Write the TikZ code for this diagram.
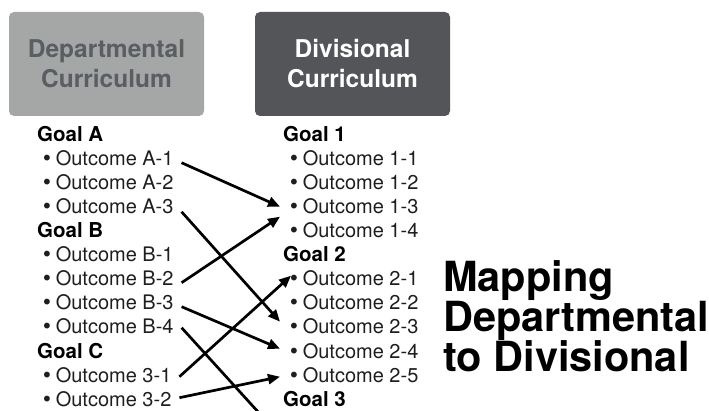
\documentclass[tikz,border=0pt]{standalone}
\usepackage{fontspec}
\setmainfont{TeX Gyre Heros}
\newfontfamily\bulletfont{DejaVu Sans}
\usetikzlibrary{arrows.meta}
\definecolor{deptgray}{HTML}{A4A7A6}
\definecolor{depttext}{HTML}{5A5D62}
\definecolor{divgray}{HTML}{535558}
\definecolor{itemtext}{HTML}{1E1E1E}
\newcommand{\itembullet}{{\bulletfont •}\hspace{3pt}}
\tikzset{
  currbox/.style={rounded corners=5pt, minimum width=195pt, minimum height=104pt,
    align=center, inner sep=0pt, font=\bfseries\fontsize{24.5}{30}\selectfont},
  goal/.style={anchor=base west, inner sep=0pt, font=\bfseries\fontsize{20.5}{24}\selectfont},
  outcome/.style={anchor=base west, inner xsep=5pt, outer xsep=3pt, inner ysep=1pt,
    text=itemtext, font=\fontsize{20}{24}\selectfont},
  maparrow/.style={-{Triangle[length=12pt,width=10pt]}, line width=2.7pt}
}

\begin{document}
\begin{tikzpicture}[x=1pt, y=-1pt]
  \useasboundingbox (0,0) rectangle (709,411);
  \clip (0,0) rectangle (709,411);
  % header boxes
  \node[currbox, fill=deptgray, text=depttext] (dept) at (106.5,64) {Departmental\\Curriculum};
  \node[currbox, fill=divgray, text=white] (div) at (352.5,64) {Divisional\\Curriculum};
  % departmental side
  \node[goal] (goalA) at (37,142) {Goal A};
  \node[goal] (goalB) at (37,238) {Goal B};
  \node[goal] (goalC) at (37,358) {Goal C};
  \foreach \n/\t/\r in {a1/A-1/1, a2/A-2/2, a3/A-3/3, b1/B-1/5, b2/B-2/6,
                        b3/B-3/7, b4/B-4/8, c1/3-1/10, c2/3-2/11} {
    \node[outcome] (\n) at (33,{142+24*\r}) {\itembullet Outcome \t};
  }
  % divisional side
  \node[goal] (goal1) at (283,142) {Goal 1};
  \node[goal] (goal2) at (283,262) {Goal 2};
  \node[goal] (goal3) at (283,406) {Goal 3};
  \foreach \n/\t/\r in {o11/1-1/1, o12/1-2/2, o13/1-3/3, o14/1-4/4, o21/2-1/6,
                        o22/2-2/7, o23/2-3/8, o24/2-4/9, o25/2-5/10} {
    \node[outcome] (\n) at (280,{142+24*\r}) {\itembullet Outcome \t};
  }
  \coordinate (offpage) at (280,436);
  % title
  \node[anchor=north west, inner sep=0pt, align=left,
    font=\bfseries\fontsize{41.5}{40}\selectfont] (title) at (443,260)
    {Mapping\\Departmental\\to Divisional};
  % mapping arrows
  \draw[maparrow] ([yshift=-4pt]a1.east) -- (o13.west);
  \draw[maparrow] ([yshift=-5pt]a3.east) -- ([yshift=5pt]o23.west);
  \draw[maparrow] ([yshift=-4pt]b2.east) -- ([yshift=-10pt]o13.west);
  \draw[maparrow] ([yshift=-4pt]b3.east) -- ([yshift=2pt]o24.west);
  \draw[maparrow] ([yshift=-1pt]b4.east) -- (offpage);
  \draw[maparrow] ([yshift=-2pt]c1.east) -- ([xshift=11pt,yshift=3pt]o21.west);
  \draw[maparrow] ([yshift=1pt]c2.east) -- ([yshift=-2pt]o25.west);
\end{tikzpicture}
\end{document}
